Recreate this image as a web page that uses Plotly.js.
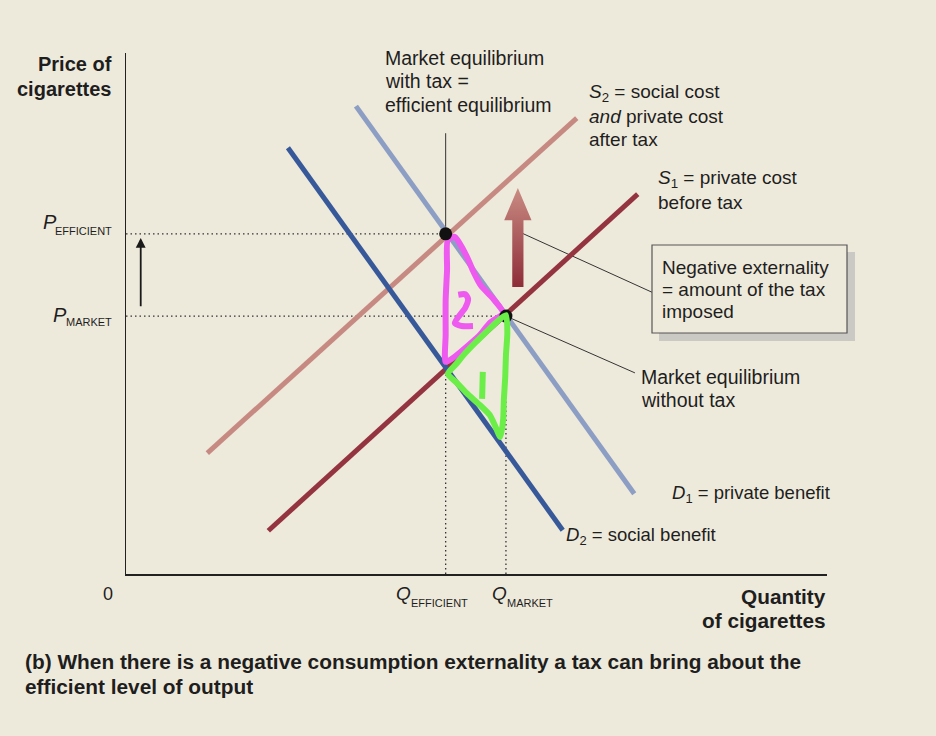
<!DOCTYPE html>
<html><head><meta charset="utf-8">
<script src="https://cdn.plot.ly/plotly-3.0.1.min.js"></script>
<style>html,body{margin:0;padding:0;background:#eeeadb;}</style>
</head><body><div id="chart" style="width:936px;height:736px;"></div>
<script>
// ---- data (quantity q, price p, on a 0-100 scale) ----
const D1_q = [32.8, 72.5], D1_p = [89.8, 15.4];   // private benefit
const D2_q = [23.1, 62.3], D2_p = [81.8, 8.4];    // social benefit
const S1_q = [20.3, 73.0], S1_p = [8.3, 72.9];    // private cost before tax
const S2_q = [11.6, 64.3], S2_p = [23.2, 87.5];   // social cost / private cost after tax
const Q_EFF = 45.6, Q_MKT = 54.2, P_EFF = 65.3, P_MKT = 49.5;
const eqQ = [Q_EFF, Q_MKT], eqP = [P_EFF, P_MKT];
// hand-drawn areas
const area2_q = [46.9,45.9,45.8,45.6,45.6,45.6,46.9,48.6,50.5,51.9,53.8,52.4,50.6,49.5,48.9,48.1,46.9];
const area2_p = [64.7,64.1,58.4,52.6,45.9,40.7,41.7,43.6,45.9,48.2,50.1,52.8,55.4,58.2,60.1,62.3,64.7];
const digit2_q = [47.4,48.4,48.8,48.4,46.9,47.9,49.5];
const digit2_p = [53.6,53.7,52.8,51.1,48.2,47.6,47.6];
const area1_q = [54.2,52.9,51.5,49.9,48.4,47.1,45.9,47.2,48.6,50.5,51.9,52.6,53.4,53.8,53.9,54.1,54.2,54.4,54.2];
const area1_p = [49.7,48.4,46.6,44.5,42.4,40.3,38.4,36.7,34.7,32.4,30.5,28.6,26.3,29.6,33.4,37.8,42.0,46.3,49.7];
const digit1_q = [50.9, 50.8], digit1_p = [38.8, 33.6];
// arrows and leader lines
const taxArrowQ = 55.9, taxArrowBase = 55.1, taxArrowTip = 74.1;
const priceArrowQ = 2.1, priceArrowFrom = 51.1, priceArrowTo = 64.5;
const taxLeader_q = [56.2, 75.0], taxLeader_p = [65.6, 54.1];
const eqLeader_q = [54.2, 72.6], eqLeader_p = [49.5, 38.6];
const topLeader_q = [Q_EFF, Q_EFF], topLeader_p = [P_EFF, 84.6];
// labels
const priceLabel = ['Price of', 'cigarettes'];
const qtyLabel = ['Quantity', 'of cigarettes'];
const caption = ['(b) When there is a negative consumption externality a tax can bring about the', 'efficient level of output'];

// ---- layout geometry ----
const L = 126, R = 827, T = 53, B = 574;
const PW = R - L, PH = B - T;
const FONT = 'Liberation Sans, Arial, Helvetica, sans-serif';
const INK = '#1e1e1e';

function line(q, p, color, width, dash) {
  return {x: q, y: p, type: 'scatter', mode: 'lines', hoverinfo: 'skip',
    line: {color: color, width: width, dash: dash || 'solid'}};
}
function hand(q, p, color) {
  return {x: q, y: p, type: 'scatter', mode: 'lines', hoverinfo: 'skip',
    line: {color: color, width: 6, shape: 'spline', smoothing: 0.6}};
}
const hw = 0.8, hh = 1.95;
const arrowQ = [taxArrowQ-hw, taxArrowQ-hw, taxArrowQ-hh, taxArrowQ, taxArrowQ+hh, taxArrowQ+hw, taxArrowQ+hw, taxArrowQ-hw];
const headBase = taxArrowTip - 6.2;
const arrowP = [taxArrowBase, headBase, headBase, taxArrowTip, headBase, headBase, taxArrowBase, taxArrowBase];

const dot = '1.5px,3px';
const traces = [
  line([0, Q_EFF], [P_EFF, P_EFF], '#333', 1.3, dot),
  line([0, Q_MKT], [P_MKT, P_MKT], '#333', 1.3, dot),
  line([Q_EFF, Q_EFF], [0, P_EFF], '#333', 1.3, dot),
  line([Q_MKT, Q_MKT], [0, P_MKT], '#333', 1.3, dot),
  line(topLeader_q, topLeader_p, '#333', 1),
  line(taxLeader_q, taxLeader_p, '#333', 1),
  line(eqLeader_q, eqLeader_p, '#333', 1),
  line(S2_q, S2_p, '#c68a82', 5),
  line(S1_q, S1_p, '#943440', 5),
  line(D1_q, D1_p, '#8d9ec4', 5),
  line(D2_q, D2_p, '#37599a', 5),
  {x: arrowQ, y: arrowP, type: 'scatter', mode: 'lines', fill: 'toself', hoverinfo: 'skip',
   line: {width: 0, color: 'rgba(0,0,0,0)'},
   fillgradient: {type: 'vertical', colorscale: [[0, '#8e2c38'], [1, '#c98c83']]}},
  hand(area2_q, area2_p, '#ee5af0'),
  hand(digit2_q, digit2_p, '#ee5af0'),
  {x: eqQ, y: eqP, type: 'scatter', mode: 'markers', hoverinfo: 'skip',
   marker: {size: 13, color: '#111'}},
  hand(area1_q, area1_p, '#6cee48'),
  hand(digit1_q, digit1_p, '#6cee48')
];

function txt(text, px, py, anchor, size, opts) {
  opts = opts || {};
  return {xref: 'paper', yref: 'paper', x: (px - L) / PW, y: (B - py) / PH, text: text,
    showarrow: false, xanchor: anchor, yanchor: 'middle', borderpad: 0,
    font: {family: FONT, size: size, color: INK, weight: opts.bold ? 700 : 400, style: opts.italic ? 'italic' : 'normal'}};
}
const FS = 19;
const annotations = [
  txt(priceLabel[0], 113, 64, 'right', 20, {bold: true}),
  txt(priceLabel[1], 113, 89, 'right', 20, {bold: true}),
  txt('Market equilibrium', 384, 58, 'left', 19.5),
  txt('with tax =', 384, 81, 'left', 19.5),
  txt('efficient equilibrium', 384, 105, 'left', 19.5),
  txt('<i>S</i><sub>2</sub> = social cost', 588, 93, 'left', FS),
  txt('<i>and</i> private cost', 588, 116, 'left', FS),
  txt('after tax', 588, 139, 'left', FS),
  txt('<i>S</i><sub>1</sub> = private cost', 657, 179, 'left', FS),
  txt('before tax', 657, 202, 'left', FS),
  txt('Negative externality', 661, 267, 'left', FS),
  txt('= amount of the tax', 661, 289, 'left', FS),
  txt('imposed', 661, 311, 'left', FS),
  txt('Market equilibrium', 640, 377, 'left', 19.5),
  txt('without tax', 640, 400, 'left', 19.5),
  txt('<i>D</i><sub>1</sub> = private benefit', 671, 494, 'left', 18.5),
  txt('<i>D</i><sub>2</sub> = social benefit', 565, 536, 'left', 18.5),
  txt('P', 58, 222, 'right', 20, {italic: true}),
  txt('EFFICIENT', 113, 230.5, 'right', 11),
  txt('P', 68, 314.5, 'right', 20, {italic: true}),
  txt('MARKET', 113, 321.5, 'right', 11),
  txt('0', 108, 594, 'center', 18),
  txt('Q', 412, 593, 'right', 19, {italic: true}),
  txt('EFFICIENT', 410, 603, 'left', 11),
  txt('Q', 508, 593, 'right', 19, {italic: true}),
  txt('MARKET', 506, 603, 'left', 11),
  txt(qtyLabel[0], 827, 596, 'right', 20.8, {bold: true}),
  txt(qtyLabel[1], 827, 620, 'right', 20.8, {bold: true}),
  txt(caption[0], 24, 661, 'left', 20.85, {bold: true}),
  txt(caption[1], 24, 686, 'left', 20.85, {bold: true}),
  {xref: 'x', yref: 'y', x: priceArrowQ, y: priceArrowTo, ax: priceArrowQ, ay: priceArrowFrom,
   axref: 'x', ayref: 'y', text: '', showarrow: true, arrowhead: 2, arrowsize: 1.1,
   arrowwidth: 1.8, arrowcolor: '#1a1a1a', standoff: 0}
];

const shapes = [
  {type: 'rect', xref: 'paper', yref: 'paper', x0: (659 - L) / PW, x1: (855 - L) / PW,
   y0: (B - 341) / PH, y1: (B - 252) / PH, fillcolor: '#cbc9c4', line: {width: 0}, layer: 'below'},
  {type: 'rect', xref: 'paper', yref: 'paper', x0: (652 - L) / PW, x1: (847 - L) / PW,
   y0: (B - 333) / PH, y1: (B - 245) / PH, fillcolor: '#eeeadb', line: {color: '#555', width: 1.2}, layer: 'below'}
];

const layout = {
  width: 936, height: 736,
  margin: {l: L, r: 936 - R, t: T, b: 736 - B, pad: 0},
  paper_bgcolor: '#eeeadb', plot_bgcolor: '#eeeadb',
  showlegend: false,
  xaxis: {range: [0, 100], showline: true, linecolor: '#222', linewidth: 1.5, showgrid: false,
          zeroline: false, showticklabels: false, ticks: '', fixedrange: true},
  yaxis: {range: [0, 100], showline: true, linecolor: '#222', linewidth: 1.5, showgrid: false,
          zeroline: false, showticklabels: false, ticks: '', fixedrange: true},
  annotations: annotations,
  shapes: shapes,
  font: {family: FONT, color: INK}
};
Plotly.newPlot('chart', traces, layout, {displayModeBar: false, staticPlot: true});
</script></body></html>
